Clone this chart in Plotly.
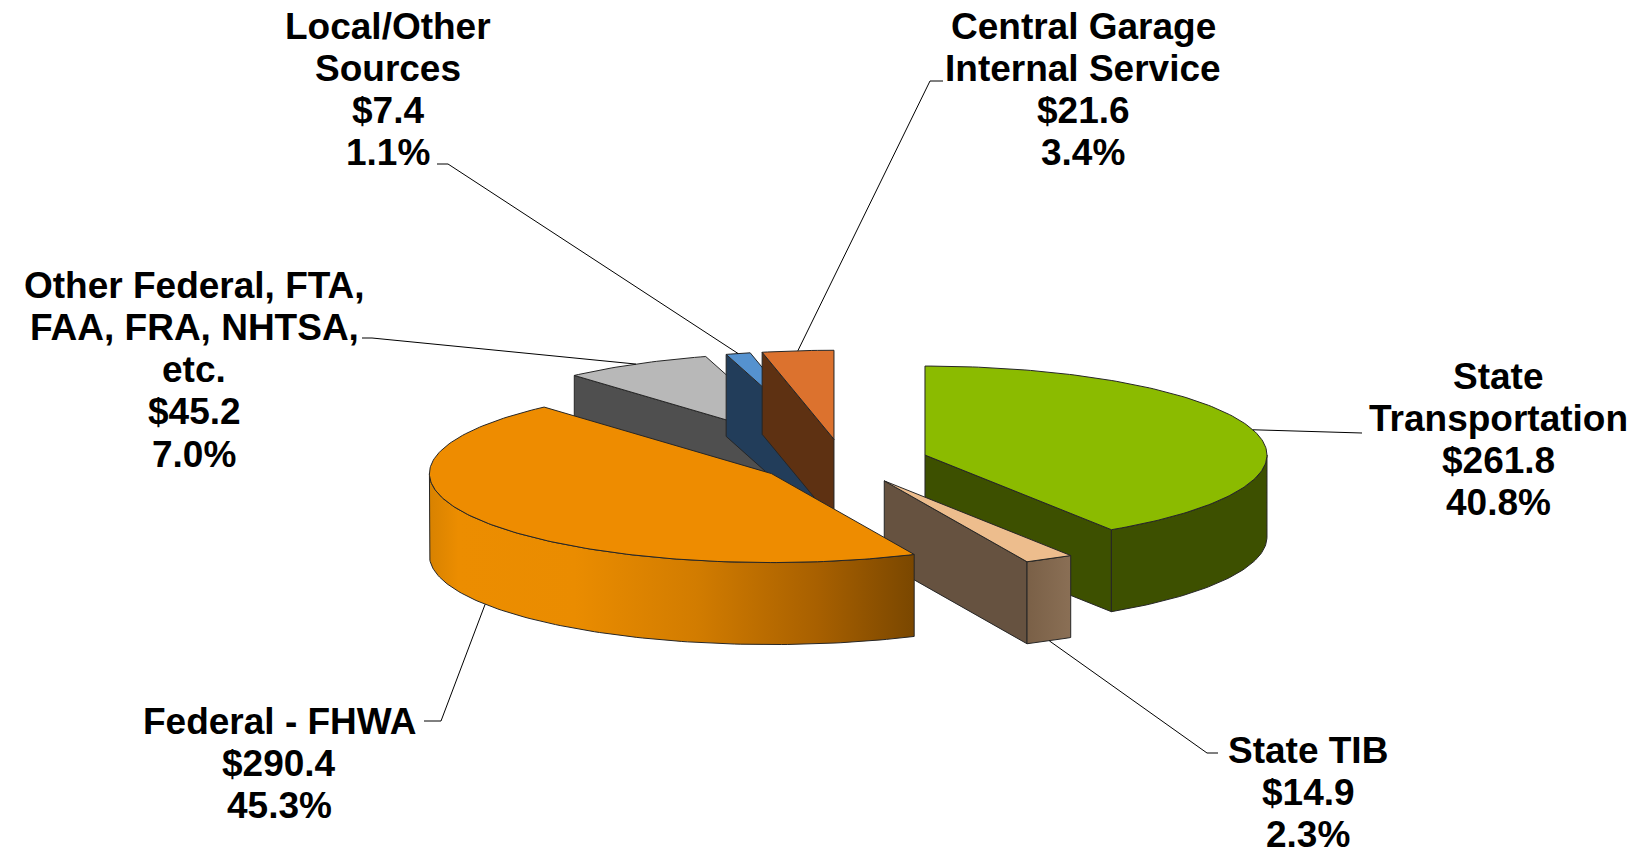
import numpy as np
import plotly.graph_objects as go

# ---------------- data ----------------
categories = ["State Transportation", "State TIB", "Federal - FHWA",
              "Other Federal, FTA, FAA, FRA, NHTSA, etc.", "Local/Other Sources",
              "Central Garage Internal Service"]
amounts = [261.8, 14.9, 290.4, 45.2, 7.4, 21.6]          # $ millions
share_labels = ["40.8%", "2.3%", "45.3%", "7.0%", "1.1%", "3.4%"]
name_lines = [["State", "Transportation"],
              ["State TIB"],
              ["Federal - FHWA"],
              ["Other Federal, FTA,", "FAA, FRA, NHTSA,", "etc."],
              ["Local/Other", "Sources"],
              ["Central Garage", "Internal Service"]]

# ---------------- styles ----------------
top_colors = ["#8BBB00", "#EDBD8D", "#EE8C00", "#B8B8B8", "#5592CF", "#DC722E"]
face_colors = ["#3D5000", "#665240", "#7A4700", "#4F4F4F", "#223D5A", "#5E3112"]
wall_colors = ["#3D5000", "#816751", "#C87800", "#4F4F4F", "#223D5A", "#5E3112"]
OUTLINE = "#262626"
FONT = "Liberation Sans, Arial, sans-serif"

# geometry of the 3-D pie (screen pixels)
CX, CY = 843.0, 461.4
RX, RY, H = 342.0, 89.0, 82.0
EXPLODE = 0.25
draw_order = [3, 4, 5, 0, 1, 2]

# label placement: (center x, first-line y), leader points on label side
label_pos = [(1498, 376), (1308, 750), (279, 721), (194, 285), (388, 26), (1083, 26)]
leader_pts = [[(1362, 433)],
              [(1207, 753), (1218, 753)],
              [(441, 721), (424, 721)],
              [(372, 338), (362, 338)],
              [(448, 164), (437, 164)],
              [(930, 81), (943, 81)]]
LINE_H = 42.3
FONT_SIZE = 37

total = sum(amounts)
bounds = np.concatenate([[0.0], np.cumsum(amounts)]) / total * 360.0


def rim(c, th, down=0.0):
    t = np.radians(th)
    return c[0] + RX * np.sin(t), c[1] - RY * np.cos(t) + down


def arc(c, a, b, down=0.0):
    n = max(2, int(abs(b - a) / 1.0) + 2)
    th = np.radians(np.linspace(a, b, n))
    return list(c[0] + RX * np.sin(th)), list(c[1] - RY * np.cos(th) + down)


fig = go.Figure()


def poly(xs, ys, color, grad=None, hover=None):
    kw = dict(x=xs + [xs[0]], y=ys + [ys[0]], mode="lines", fill="toself",
              fillcolor=color, line=dict(color=OUTLINE, width=1),
              showlegend=False)
    if hover:
        kw.update(hoveron="fills", hoverinfo="text", text=hover)
    else:
        kw.update(hoverinfo="skip")
    if grad is not None:
        kw["fillgradient"] = grad
    fig.add_trace(go.Scatter(**kw))


centers = []
for i in range(len(amounts)):
    m = np.radians((bounds[i] + bounds[i + 1]) / 2)
    centers.append((CX + EXPLODE * RX * np.sin(m), CY - EXPLODE * RY * np.cos(m)))

for i in draw_order:
    a, b = bounds[i], bounds[i + 1]
    c = centers[i]
    # radial faces
    for th, vis in ((a, np.sin(np.radians(a)) < -1e-6), (b, np.sin(np.radians(b)) > 1e-6)):
        if vis:
            x1, y1 = rim(c, th)
            x2, y2 = rim(c, th, H)
            poly([c[0], x1, x2, c[0]], [c[1], y1, y2, c[1] + H], face_colors[i])
    # outer wall (front half only)
    lo, hi = max(a, 90.0), min(b, 270.0)
    if hi > lo:
        tx, ty = arc(c, lo, hi)
        bx, by = arc(c, hi, lo, H)
        grad = None
        if i == 2:
            grad = dict(type="horizontal",
                        colorscale=[[0.0, "#D88200"], [0.06, "#EC8D00"], [0.3, "#EA8C00"],
                                    [0.55, "#D27C00"], [0.8, "#A86000"], [1.0, "#7A4700"]])
        elif i == 1:
            grad = dict(type="horizontal",
                        colorscale=[[0.0, "#7A6047"], [1.0, "#8A6F55"]])
        poly(tx + bx, ty + by, wall_colors[i], grad)
    # top face
    ax, ay = arc(c, a, b)
    poly([c[0]] + ax, [c[1]] + ay, top_colors[i],
         hover=f"{categories[i]}<br>${amounts[i]:.1f}M<br>{share_labels[i]}")

# leader lines and labels
for i in range(len(amounts)):
    mid = (bounds[i] + bounds[i + 1]) / 2
    front = np.cos(np.radians(mid)) < 0
    ax_, ay_ = rim(centers[i], mid, H if front else 0.0)
    xs = [ax_] + [p[0] for p in leader_pts[i]]
    ys = [ay_] + [p[1] for p in leader_pts[i]]
    fig.add_trace(go.Scatter(x=xs, y=ys, mode="lines", line=dict(color="#000000", width=1),
                             hoverinfo="skip", showlegend=False))
    lines = name_lines[i] + [f"${amounts[i]:.1f}", share_labels[i]]
    lx, ly = label_pos[i]
    for k, t in enumerate(lines):
        fig.add_annotation(x=lx, y=ly + k * LINE_H, text=f"<b>{t}</b>", showarrow=False,
                           xanchor="center", yanchor="middle",
                           font=dict(family=FONT, size=FONT_SIZE, color="#000000"))

fig.update_layout(
    width=1639, height=854,
    margin=dict(l=0, r=0, t=0, b=0),
    paper_bgcolor="white", plot_bgcolor="white",
    xaxis=dict(range=[0, 1639], visible=False, fixedrange=True),
    yaxis=dict(range=[854, 0], visible=False, fixedrange=True),
)

fig.write_html("out.html", config={"displayModeBar": False},
               post_script="document.body.style.margin='0px';document.body.style.overflow='hidden';")
